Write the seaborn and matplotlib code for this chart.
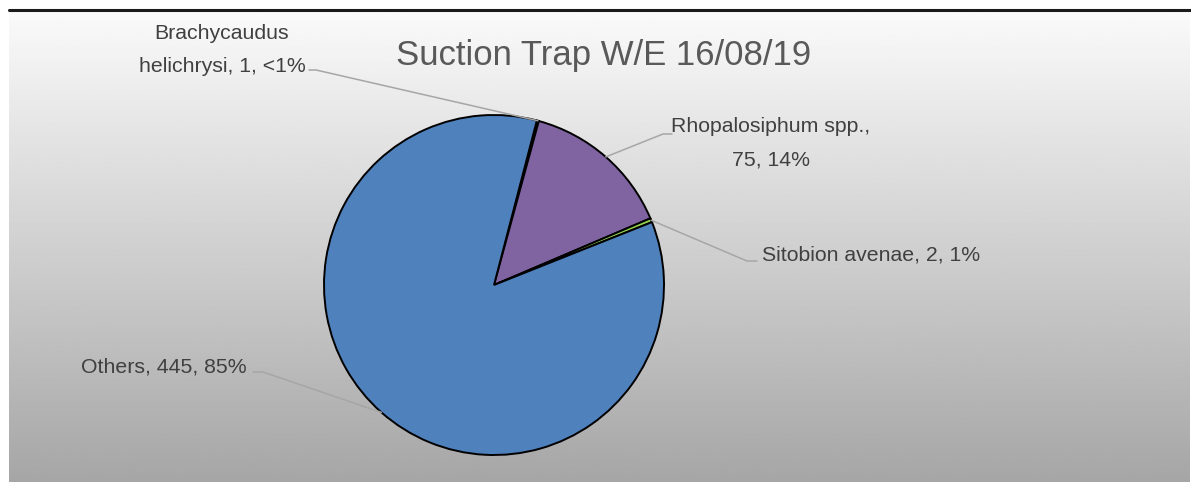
import numpy as np
import matplotlib.pyplot as plt
import seaborn as sns
from matplotlib.lines import Line2D

species = ["Brachycaudus\nhelichrysi", "Rhopalosiphum spp.", "Sitobion avenae", "Others"]
counts = [1, 75, 2, 445]
pct_labels = ["<1%", "14%", "1%", "85%"]
colors = ["#111111", "#8064A2", "#92D050", "#4F81BD"]

W, H = 1191, 482


def fig_frac(x, y):
    return x / W, 1 - y / H


sns.set_theme(style="white")
plt.rcParams["font.family"] = ["Liberation Sans", "DejaVu Sans"]

fig = plt.figure(figsize=(W / 100, H / 100), dpi=100)
fig.patch.set_facecolor("white")

# gradient chart area
bg = fig.add_axes([9 / W, 0, 1 - 10 / W, 1 - 11 / H])
grad = np.linspace(250, 166, 256).reshape(-1, 1) / 255
bg.imshow(np.repeat(grad, 2, axis=1), cmap="gray", vmin=0, vmax=1, aspect="auto",
          extent=[0, 1, 0, 1])
bg.set_axis_off()
fig.add_artist(Line2D([9 / W, 1], [1 - 9.5 / H] * 2, color="#1a1a1a", lw=2.2))

# pie
cx, cy, r = 494, 285, 170
ax = fig.add_axes([(cx - r) / W, (H - cy - r) / H, 2 * r / W, 2 * r / H])
wedges, _ = ax.pie(counts, colors=colors, startangle=90 - 14.6, counterclock=False,
                   wedgeprops=dict(edgecolor="black", linewidth=1.4))
ax.set_xlim(-1, 1)
ax.set_ylim(-1, 1)
ax.set_axis_off()

fig.text(*fig_frac(604, 56), "Suction Trap W/E 16/08/19", ha="center", va="center",
         fontsize=25, color="#595959")

# label text position, text alignment, elbow point, elbow end (all pixels)
label_pos = [(222, 50, "center", (316, 70), (309, 70)),
             (771, 143, "center", (663, 134), (672, 134)),
             (762, 255, "left", (747, 261), (757, 261)),
             (81, 367, "left", (263, 372), (253, 372))]

to_fig = fig.transFigure.inverted()
for w, name, n, pct, (tx, ty, ha, elbow, end) in zip(wedges, species, counts, pct_labels, label_pos):
    mid = np.deg2rad((w.theta1 + w.theta2) / 2)
    edge = to_fig.transform(ax.transData.transform((np.cos(mid), np.sin(mid))))
    ex, ey = fig_frac(*elbow)
    sx, sy = fig_frac(*end)
    fig.add_artist(Line2D([edge[0], ex, sx], [edge[1], ey, sy], color="#A6A6A6", lw=1.1))
    if name.startswith("Rhopalo"):
        txt = f"{name},\n{n}, {pct}"
    else:
        txt = f"{name}, {n}, {pct}"
    fig.text(*fig_frac(tx, ty), txt, ha=ha, va="center", multialignment="center",
             fontsize=15.3, color="#404040", linespacing=1.95)

fig.savefig("out.png", dpi=100)
